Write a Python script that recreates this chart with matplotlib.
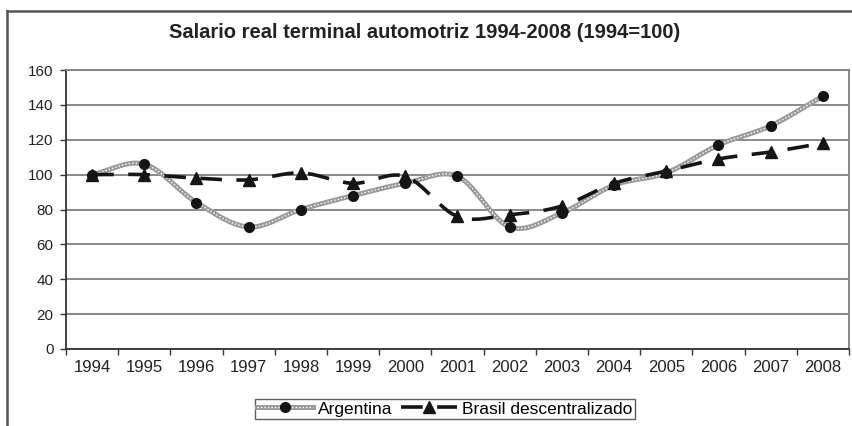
import numpy as np
import matplotlib.pyplot as plt
from matplotlib.lines import Line2D
from matplotlib.legend_handler import HandlerTuple

plt.rcParams['font.family'] = ['Liberation Sans', 'DejaVu Sans']

years = ['1994', '1995', '1996', '1997', '1998', '1999', '2000', '2001',
         '2002', '2003', '2004', '2005', '2006', '2007', '2008']
argentina = [100, 106, 84, 70, 80, 88, 95, 99, 70, 78, 94, 101, 117, 128, 145]
brasil = [100, 100, 98, 97, 101, 95, 99, 76, 77, 82, 95, 102, 109, 113, 118]


def smooth(x, y, n=20):
    # Catmull-Rom through the points, like Excel's smoothed lines
    x = np.asarray(x, float)
    y = np.asarray(y, float)
    px = np.concatenate([[2 * x[0] - x[1]], x, [2 * x[-1] - x[-2]]])
    py = np.concatenate([[2 * y[0] - y[1]], y, [2 * y[-1] - y[-2]]])
    t = np.linspace(0, 1, n)[:-1]
    xs, ys = [], []
    for i in range(1, len(px) - 2):
        for p, out in ((px, xs), (py, ys)):
            p0, p1, p2, p3 = p[i - 1], p[i], p[i + 1], p[i + 2]
            out.extend(0.5 * (2 * p1 + (-p0 + p2) * t
                              + (2 * p0 - 5 * p1 + 4 * p2 - p3) * t ** 2
                              + (-p0 + 3 * p1 - 3 * p2 + p3) * t ** 3))
    xs.append(x[-1])
    ys.append(y[-1])
    return np.array(xs), np.array(ys)


fig = plt.figure(figsize=(8.53, 4.26), dpi=100)
ax = fig.add_axes([66 / 853, 1 - 349 / 426, 783 / 853, 279 / 426])

x = np.arange(len(years))
ax.set_xlim(-0.5, len(years) - 0.5)
ax.set_ylim(0, 160)
ax.set_yticks(range(0, 161, 20))
ax.yaxis.grid(True, color='#808080', lw=1.3)
ax.set_axisbelow(True)

ax.set_xticks(x)
ax.set_xticklabels(years, fontsize=12, color='#222222')
ax.set_xticks(np.arange(-0.5, len(years), 1), minor=True)
ax.tick_params(axis='x', which='major', length=0, pad=8)
ax.tick_params(axis='x', which='minor', length=4, width=1, color='#333333', direction='out')
ax.tick_params(axis='y', length=4, width=1, color='#333333', labelsize=11,
               labelcolor='#222222', pad=5)

for side in ('top', 'right'):
    ax.spines[side].set_color('#808080')
    ax.spines[side].set_linewidth(1.3)
for side in ('left', 'bottom'):
    ax.spines[side].set_color('#333333')
    ax.spines[side].set_linewidth(1.3)

# Argentina: textured grey smoothed line with round markers
sx, sy = smooth(x, argentina)
ax.plot(sx, sy, color='#9a9a9a', lw=3.6, solid_capstyle='round', zorder=3)
ax.plot(sx, sy, color='white', lw=1.0, ls=(0, (1, 1.5)), zorder=3.1)
ax.plot(x, argentina, 'o', color='#151515', ms=7, zorder=4)

# Brasil: thick black dashed smoothed line with triangles
bx, by = smooth(x, brasil)
ax.plot(bx, by, color='#151515', lw=2.6, ls=(0, (6, 4)), zorder=5)
ax.plot(x, brasil, '^', color='#151515', ms=8, zorder=6)

fig.text(425 / 853, 1 - 33 / 426, 'Salario real terminal automotriz 1994-2008 (1994=100)',
         ha='center', va='center', fontsize=14.5, fontweight='bold', color='#222222')

arg_line = Line2D([], [], color='#9a9a9a', lw=3.6)
arg_dots = Line2D([], [], color='white', lw=1.0, ls=(0, (1, 1.5)))
arg_mark = Line2D([], [], marker='o', color='#151515', ms=7, ls='none')
bra_line = Line2D([], [], color='#151515', lw=2.6, ls=(0, (6, 4)))
bra_mark = Line2D([], [], marker='^', color='#151515', ms=8, ls='none')
leg = fig.legend([(arg_line, arg_dots, arg_mark), (bra_line, bra_mark)],
                 ['Argentina', 'Brasil descentralizado'],
                 handler_map={tuple: HandlerTuple(ndivide=1)},
                 loc='center', bbox_to_anchor=(445 / 853, 1 - 409 / 426),
                 ncol=2, fontsize=12.5, frameon=True, fancybox=False,
                 handlelength=3.2, columnspacing=0.5, handletextpad=0.3,
                 borderpad=0.15, borderaxespad=0)
leg.get_frame().set_edgecolor('#333333')
leg.get_frame().set_linewidth(1.0)

# chart area frame (left and top edges)
fig.add_artist(Line2D([7 / 853, 7 / 853], [0, 1 - 11 / 426], color='#555555', lw=1.8))
fig.add_artist(Line2D([7 / 853, 1], [1 - 11 / 426, 1 - 11 / 426], color='#555555', lw=1.8))

fig.savefig('out.png', dpi=100)
